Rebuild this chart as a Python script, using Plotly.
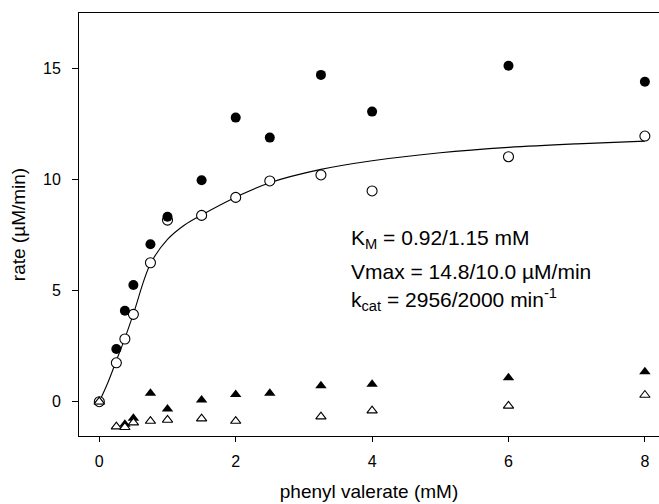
import plotly.graph_objects as go

# concentrations (mM)
conc = [0, 0.25, 0.375, 0.5, 0.75, 1, 1.5, 2, 2.5, 3.25, 4, 6, 8]

# filled circles (starts at 0.25)
filled_circ_x = [0.25, 0.375, 0.5, 0.75, 1, 1.5, 2, 2.5, 3.25, 4, 6, 8]
filled_circ_y = [2.37, 4.09, 5.25, 7.08, 8.32, 9.96, 12.78, 11.88, 14.70, 13.05, 15.11, 14.39]

# open circles
open_circ_y = [0.0, 1.75, 2.82, 3.93, 6.25, 8.17, 8.38, 9.19, 9.93, 10.20, 9.48, 11.02, 11.95]

# filled triangles
filled_tri_x = [0, 0.375, 0.5, 0.75, 1, 1.5, 2, 2.5, 3.25, 4, 6, 8]
filled_tri_y = [0.0, -1.02, -0.75, 0.38, -0.33, 0.08, 0.32, 0.38, 0.72, 0.78, 1.08, 1.35]

# open triangles
open_tri_x = [0, 0.25, 0.375, 0.5, 0.75, 1, 1.5, 2, 3.25, 4, 6, 8]
open_tri_y = [0.0, -1.12, -1.15, -0.94, -0.87, -0.82, -0.76, -0.87, -0.67, -0.40, -0.19, 0.30]

# fitted curve
fit_x = [0, 0.125, 0.25, 0.375, 0.5, 0.75, 1, 1.25, 1.5, 2, 2.5, 3.25, 4, 5, 6, 7, 8]
fit_y = [0, 0.85, 1.85, 2.85, 3.95, 6.2, 7.3, 7.95, 8.4, 9.2, 9.85, 10.45, 10.84, 11.2, 11.44, 11.6, 11.72]

x_ticks = [0, 2, 4, 6, 8]
y_ticks = [0, 5, 10, 15]

annot_lines = ["K<sub>M</sub> = 0.92/1.15 mM",
               "Vmax = 14.8/10.0 µM/min",
               "k<sub>cat</sub> = 2956/2000 min<sup>-1</sup>"]
annot_y = [7.30, 5.85, 4.58]

FONT = "Liberation Sans, Arial, sans-serif"

fig = go.Figure()
fig.add_trace(go.Scatter(x=fit_x, y=fit_y, mode="lines", line=dict(color="black", width=1.1, shape="spline"),
                         hoverinfo="skip", showlegend=False))
fig.add_trace(go.Scatter(x=conc, y=open_circ_y, mode="markers",
                         marker=dict(symbol="circle", size=10, color="white", line=dict(color="black", width=1.1)),
                         showlegend=False))
fig.add_trace(go.Scatter(x=filled_circ_x, y=filled_circ_y, mode="markers",
                         marker=dict(symbol="circle", size=10, color="black", line=dict(color="black", width=0)),
                         showlegend=False))
fig.add_trace(go.Scatter(x=filled_tri_x, y=filled_tri_y, mode="markers",
                         marker=dict(symbol="triangle-up", size=10, color="black", line=dict(color="black", width=0)),
                         showlegend=False))
fig.add_trace(go.Scatter(x=open_tri_x, y=open_tri_y, mode="markers",
                         marker=dict(symbol="triangle-up", size=9, color="white", line=dict(color="black", width=1.1)),
                         showlegend=False))

for txt, yy in zip(annot_lines, annot_y):
    fig.add_annotation(x=3.66, y=yy, xref="x", yref="y", xanchor="left", yanchor="middle", align="left",
                       showarrow=False, text=txt,
                       font=dict(family=FONT, size=21, color="black"))

fig.update_layout(
    width=659, height=504,
    margin=dict(l=79, r=0, t=13, b=68),
    paper_bgcolor="white", plot_bgcolor="white",
    font=dict(family=FONT, color="black"),
    xaxis=dict(range=[-0.2977, 8.207], tickvals=x_ticks, ticks="outside", ticklen=5, tickwidth=1,
               tickcolor="black", showline=True, linecolor="black", linewidth=1, mirror=True,
               showgrid=False, zeroline=False, tickfont=dict(size=16, family=FONT),
               ticklabelstandoff=6,
               title=dict(text="phenyl valerate (mM)", font=dict(size=19, family=FONT), standoff=15)),
    yaxis=dict(range=[-1.543, 17.485], tickvals=y_ticks, ticks="outside", ticklen=6, tickwidth=1,
               tickcolor="black", showline=True, linecolor="black", linewidth=1, mirror=False,
               showgrid=False, zeroline=False, tickfont=dict(size=16, family=FONT),
               ticklabelstandoff=8,
               title=dict(text="rate (µM/min)", font=dict(size=19, family=FONT), standoff=12)),
)

fig.write_html("out.html")
